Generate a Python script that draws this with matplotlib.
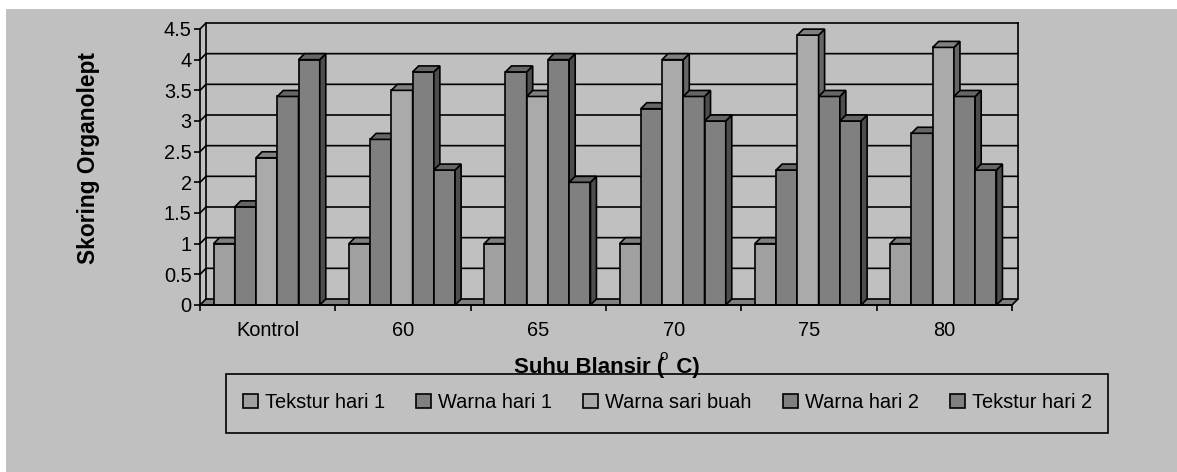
import matplotlib
matplotlib.use("Agg")
import matplotlib.pyplot as plt
from matplotlib.patches import Polygon, Rectangle, Patch

plt.rcParams['font.family'] = ['Liberation Sans', 'DejaVu Sans']

categories = ["Kontrol", "60", "65", "70", "75", "80"]
tekstur_1 = [1, 1, 1, 1, 1, 1]
warna_1 = [1.6, 2.7, 3.8, 3.2, 2.2, 2.8]
warna_sari = [2.4, 3.5, 3.4, 4, 4.4, 4.2]
warna_2 = [3.4, 3.8, 4, 3.4, 3.4, 3.4]
tekstur_2 = [4, 2.2, 2, 3, 3, 2.2]
y_ticks = [0, 0.5, 1, 1.5, 2, 2.5, 3, 3.5, 4, 4.5]
y_labels = ["0", "0.5", "1", "1.5", "2", "2.5", "3", "3.5", "4", "4.5"]

series = [
    ("Tekstur hari 1", tekstur_1, "#a0a0a0", "#808080", "#666666"),
    ("Warna hari 1", warna_1, "#808080", "#666666", "#4d4d4d"),
    ("Warna sari buah", warna_sari, "#aaaaaa", "#808080", "#666666"),
    ("Warna hari 2", warna_2, "#808080", "#666666", "#4d4d4d"),
    ("Tekstur hari 2", tekstur_2, "#808080", "#666666", "#4d4d4d"),
]

W, H = 1177, 472
BG = "#c0c0c0"
LW = 1.2

fig = plt.figure(figsize=(W / 100, H / 100), dpi=100, facecolor="white")
fig.patches.append(Rectangle((6 / W, 0), (W - 6) / W, (H - 9) / H,
                             transform=fig.transFigure, fc=BG, ec="none", zorder=-10))

# front plane of the fake 3d box, in pixels
left, right, top, bottom = 200, 1012, 29, 305
ax = fig.add_axes([left / W, (H - bottom) / H, (right - left) / W, (bottom - top) / H])
ax.set_xlim(0, 6)
ax.set_ylim(0, 4.5)
ax.patch.set_alpha(0)

# depth of the box in data units (6 px each way)
dx = 6 * 6 / (right - left)
dy = 6 * 4.5 / (bottom - top)

# floor and walls
ax.add_patch(Polygon([(0, 0), (dx, dy), (6 + dx, dy), (6, 0)], closed=True, fc="#808080",
                     ec="black", lw=LW, clip_on=False, zorder=1))
for t in y_ticks[1:]:
    ax.plot([0, dx, 6 + dx], [t, t + dy, t + dy], color="black", lw=LW, clip_on=False, zorder=1)
ax.plot([dx, dx], [dy, 4.5 + dy], color="black", lw=LW, clip_on=False, zorder=1)
ax.plot([6 + dx, 6 + dx], [dy, 4.5 + dy], color="black", lw=LW, clip_on=False, zorder=1)

bar_w = 0.157
pad = 0.1
z = 2
for i in range(len(categories)):
    for j, (name, vals, face, top_c, side_c) in enumerate(series):
        x0 = i + pad + j * bar_w
        v = vals[i]
        ax.bar(x0, v, width=bar_w, align="edge", color=face, edgecolor="black", linewidth=LW,
               zorder=z, clip_on=False)
        ax.add_patch(Polygon([(x0 + bar_w, 0), (x0 + bar_w + dx, dy), (x0 + bar_w + dx, v + dy),
                              (x0 + bar_w, v)], closed=True, fc=side_c, ec="black", lw=LW,
                             clip_on=False, zorder=z))
        ax.add_patch(Polygon([(x0, v), (x0 + dx, v + dy), (x0 + bar_w + dx, v + dy),
                              (x0 + bar_w, v)], closed=True, fc=top_c, ec="black", lw=LW,
                             clip_on=False, zorder=z))
        z += 1

for s in ["top", "right"]:
    ax.spines[s].set_visible(False)
for s in ["left", "bottom"]:
    ax.spines[s].set_linewidth(LW)
    ax.spines[s].set_zorder(100)

ax.set_yticks(y_ticks, y_labels)
ax.set_xticks(range(len(categories) + 1), [""] * (len(categories) + 1))
ax.set_xticks([i + 0.5 for i in range(len(categories))], categories, minor=True)
ax.tick_params(axis="y", length=4, width=LW, labelsize=14.4, pad=2)
ax.tick_params(axis="x", which="major", length=4.5, width=LW)
ax.tick_params(axis="x", which="minor", length=0, labelsize=14.4, pad=11.5)

ax.set_ylabel("Skoring Organolept", fontsize=16.4, fontweight="bold")
ax.yaxis.set_label_coords((88 - left) / (right - left), (bottom - 158) / (bottom - top))
ax.yaxis.label.set_verticalalignment("center")
ax.set_xlabel("Suhu Blansir (  C)", fontsize=16, fontweight="bold")
ax.xaxis.set_label_coords((607 - left) / (right - left), (bottom - 372.5) / (bottom - top))
ax.xaxis.label.set_verticalalignment("baseline")
ax.text((664 - left) / (right - left), (bottom - 360) / (bottom - top), "o", fontsize=11,
        ha="center", va="baseline", transform=ax.transAxes, clip_on=False)

# legend box
fig.patches.append(Rectangle((226 / W, (H - 433) / H), 882 / W, 59 / H, transform=fig.transFigure,
                             fc="none", ec="black", lw=LW, zorder=5))
handles = [Patch(facecolor=s[2], edgecolor="black", linewidth=LW, label=s[0]) for s in series]
fig.legend(handles=handles, ncol=5, frameon=False, fontsize=14.4, loc="center",
           bbox_to_anchor=(667.5 / W, (H - 402.5) / H), columnspacing=1.55, handlelength=0.75,
           handleheight=0.75, handletextpad=0.35, borderpad=0, borderaxespad=0)

fig.savefig("out.png", dpi=100, facecolor="white")
